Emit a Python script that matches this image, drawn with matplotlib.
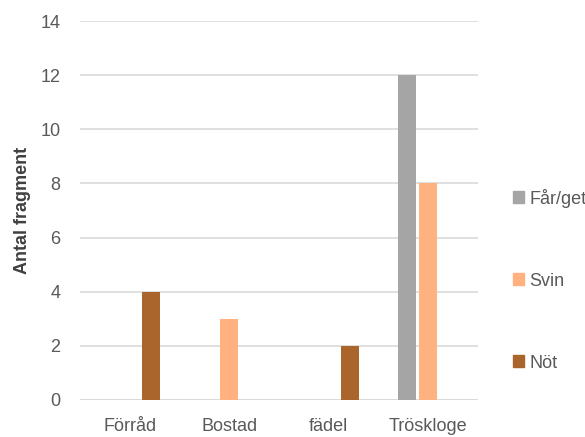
import numpy as np
import matplotlib.pyplot as plt
from matplotlib.patches import Patch

plt.rcParams['font.family'] = ['Liberation Sans', 'DejaVu Sans']

categories = ['Förråd', 'Bostad', 'fädel', 'Tröskloge']
series_names = ['Får/get', 'Svin', 'Nöt']
far_get = [0, 0, 0, 12]
svin = [0, 3, 0, 8]
not_ = [4, 0, 2, 0]
colors = ['#A5A5A5', '#FFB27F', '#A9652C']

fig = plt.figure(figsize=(5.85, 4.37), dpi=100)
ax = fig.add_axes([80 / 585, 1 - 400 / 437, 398 / 585, 379 / 437])

x = np.arange(len(categories))
width = 0.18
step = 0.215
for i, (vals, col) in enumerate(zip([far_get, svin, not_], colors)):
    ax.bar(x + (i - 1) * step, vals, width, color=col, zorder=3)

ax.set_xlim(-0.5, len(categories) - 0.5)
ax.set_ylim(0, 14)
ax.set_yticks(range(0, 15, 2))
ax.yaxis.grid(True, color='#D9D9D9', linewidth=1.2, zorder=0)
ax.set_xticks(x)
ax.set_xticklabels(categories)
for s in ax.spines.values():
    s.set_visible(False)
ax.axhline(0, color='#D9D9D9', linewidth=1.2, zorder=2)
ax.tick_params(length=0, labelsize=13, colors='#595959', pad=13)
ax.tick_params(axis='y', pad=14)
ax.set_ylabel('Antal fragment', fontsize=13, fontweight='bold', color='#404040', labelpad=7)

handles = [Patch(color=c) for c in colors]
fig.legend(handles, series_names, loc='center left', bbox_to_anchor=(0.849, 1 - 280 / 437),
           frameon=False, fontsize=13, labelspacing=3.6, handlelength=0.6, handleheight=0.6,
           handletextpad=0.3, labelcolor='#595959')

fig.savefig('out.png', dpi=100)
